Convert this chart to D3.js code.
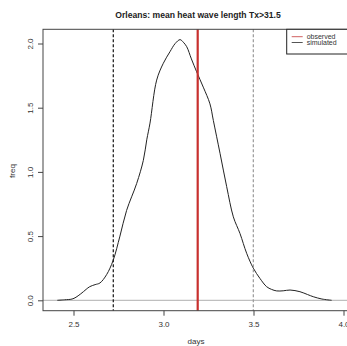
<!DOCTYPE html>
<html>
<head>
<meta charset="utf-8">
<script src="https://cdn.jsdelivr.net/npm/d3@7"></script>
<style>
  body { margin: 0; background: #fff; }
  text { font-family: "Liberation Sans", Arial, sans-serif; fill: #222; }
</style>
</head>
<body>
<div id="chart"></div>
<script>
// density of simulated mean heat wave length (days, freq)
const days = [2.41, 2.45, 2.497, 2.54, 2.57, 2.59, 2.62, 2.647, 2.684, 2.72, 2.758, 2.795, 2.851, 2.888,
    2.907, 2.925, 2.962, 2.999, 3.036, 3.065, 3.092, 3.11, 3.129, 3.155, 3.184, 3.221, 3.258, 3.277, 3.314,
    3.351, 3.388, 3.425, 3.462, 3.499, 3.536, 3.573, 3.6, 3.629, 3.665, 3.703, 3.758, 3.8, 3.832, 3.88, 3.934];
const freq = [0.0, 0.004, 0.012, 0.05, 0.085, 0.106, 0.122, 0.135, 0.2, 0.31, 0.5, 0.7, 0.91, 1.09,
    1.25, 1.38, 1.715, 1.846, 1.936, 2.0, 2.03, 2.01, 1.975, 1.88, 1.78, 1.66, 1.53, 1.4, 1.145,
    0.885, 0.65, 0.52, 0.366, 0.25, 0.17, 0.106, 0.085, 0.073, 0.074, 0.08, 0.067, 0.045, 0.028, 0.01, 0.0];

const observed = 3.19;
const lowerQ = 2.721;
const upperQ = 3.499;

const xTicks = [2.5, 3.0, 3.5, 4.0];
const yTicks = [0.0, 0.5, 1.0, 1.5, 2.0];
const legendLabels = ["observed", "simulated"];

const width = 347, height = 346;
const margin = {top: 29.3, left: 43, bottom: 310.7};

const svg = d3.select("#chart").append("svg")
    .attr("width", width)
    .attr("height", height);

// scales (px positions)
const x = d3.scaleLinear().domain([2.5, 3.5]).range([73.5, 253.5]);
const y = d3.scaleLinear().domain([0, 2]).range([300.3, 43.5]);

const plotRight = x(4.08);

// zero line
svg.append("line")
    .attr("x1", margin.left).attr("x2", plotRight)
    .attr("y1", y(0)).attr("y2", y(0))
    .attr("stroke", "#b0b0b0").attr("stroke-width", 1);

// density curve
const line = d3.line()
    .x((d, i) => x(days[i]))
    .y(d => y(d))
    .curve(d3.curveCatmullRom);

svg.append("path")
    .datum(freq)
    .attr("d", line)
    .attr("fill", "none")
    .attr("stroke", "#222")
    .attr("stroke-width", 1);

// quantile lines
svg.append("line")
    .attr("x1", x(lowerQ)).attr("x2", x(lowerQ))
    .attr("y1", margin.top).attr("y2", margin.bottom)
    .attr("stroke", "#111").attr("stroke-width", 1.2)
    .attr("stroke-dasharray", "3,2");

svg.append("line")
    .attr("x1", x(upperQ)).attr("x2", x(upperQ))
    .attr("y1", margin.top).attr("y2", margin.bottom)
    .attr("stroke", "#999").attr("stroke-width", 1.2)
    .attr("stroke-dasharray", "3,2");

// observed value
svg.append("line")
    .attr("x1", x(observed)).attr("x2", x(observed))
    .attr("y1", margin.top).attr("y2", margin.bottom)
    .attr("stroke", "#c8302e").attr("stroke-width", 2.2);

// plot box
svg.append("rect")
    .attr("x", margin.left).attr("y", margin.top)
    .attr("width", plotRight - margin.left)
    .attr("height", margin.bottom - margin.top)
    .attr("fill", "none")
    .attr("stroke", "#444").attr("stroke-width", 1);

// x axis
const xAxis = d3.axisBottom(x)
    .tickValues(xTicks)
    .tickFormat(d3.format(".1f"))
    .tickSize(5)
    .tickSizeOuter(0);

const gx = svg.append("g")
    .attr("transform", "translate(0," + margin.bottom + ")")
    .call(xAxis);
gx.select(".domain").remove();
gx.selectAll("line").attr("stroke", "#444");
gx.selectAll("text")
    .attr("dy", null).attr("y", 16)
    .style("font-size", "8px").style("fill", "#333");

// y axis
const yAxis = d3.axisLeft(y)
    .tickValues(yTicks)
    .tickFormat(d3.format(".1f"))
    .tickSize(5)
    .tickSizeOuter(0);

const gy = svg.append("g")
    .attr("transform", "translate(" + margin.left + ",0)")
    .call(yAxis);
gy.select(".domain").remove();
gy.selectAll("line").attr("stroke", "#444");
gy.selectAll("text")
    .attr("x", null).attr("dy", null)
    .attr("text-anchor", "middle")
    .attr("transform", "translate(-10,0) rotate(-90)")
    .style("font-size", "8px").style("fill", "#333");

// title and axis labels
svg.append("text")
    .attr("x", 198).attr("y", 17.5)
    .attr("text-anchor", "middle")
    .style("font-size", "8.6px").style("font-weight", "bold")
    .text("Orleans: mean heat wave length Tx>31.5");

svg.append("text")
    .attr("x", 196).attr("y", 344)
    .attr("text-anchor", "middle")
    .style("font-size", "8px").style("fill", "#333")
    .text("days");

svg.append("text")
    .attr("transform", "translate(15,171) rotate(-90)")
    .attr("text-anchor", "middle")
    .style("font-size", "8px").style("fill", "#333")
    .text("freq");

// legend
const legend = svg.append("g");
legend.append("rect")
    .attr("x", 286.7).attr("y", margin.top)
    .attr("width", 80).attr("height", 54 - margin.top)
    .attr("fill", "#fff")
    .attr("stroke", "#222").attr("stroke-width", 1);

const legendColors = ["#d06060", "#555"];
legendLabels.forEach((lab, i) => {
    const ly = 36.7 + i * 5.8;
    legend.append("line")
        .attr("x1", 291.7).attr("x2", 302.7)
        .attr("y1", ly).attr("y2", ly)
        .attr("stroke", legendColors[i]).attr("stroke-width", 1);
    legend.append("text")
        .attr("x", 306.7).attr("y", ly + 2.5)
        .style("font-size", "7px").style("fill", "#333")
        .text(lab);
});
</script>
</body>
</html>
